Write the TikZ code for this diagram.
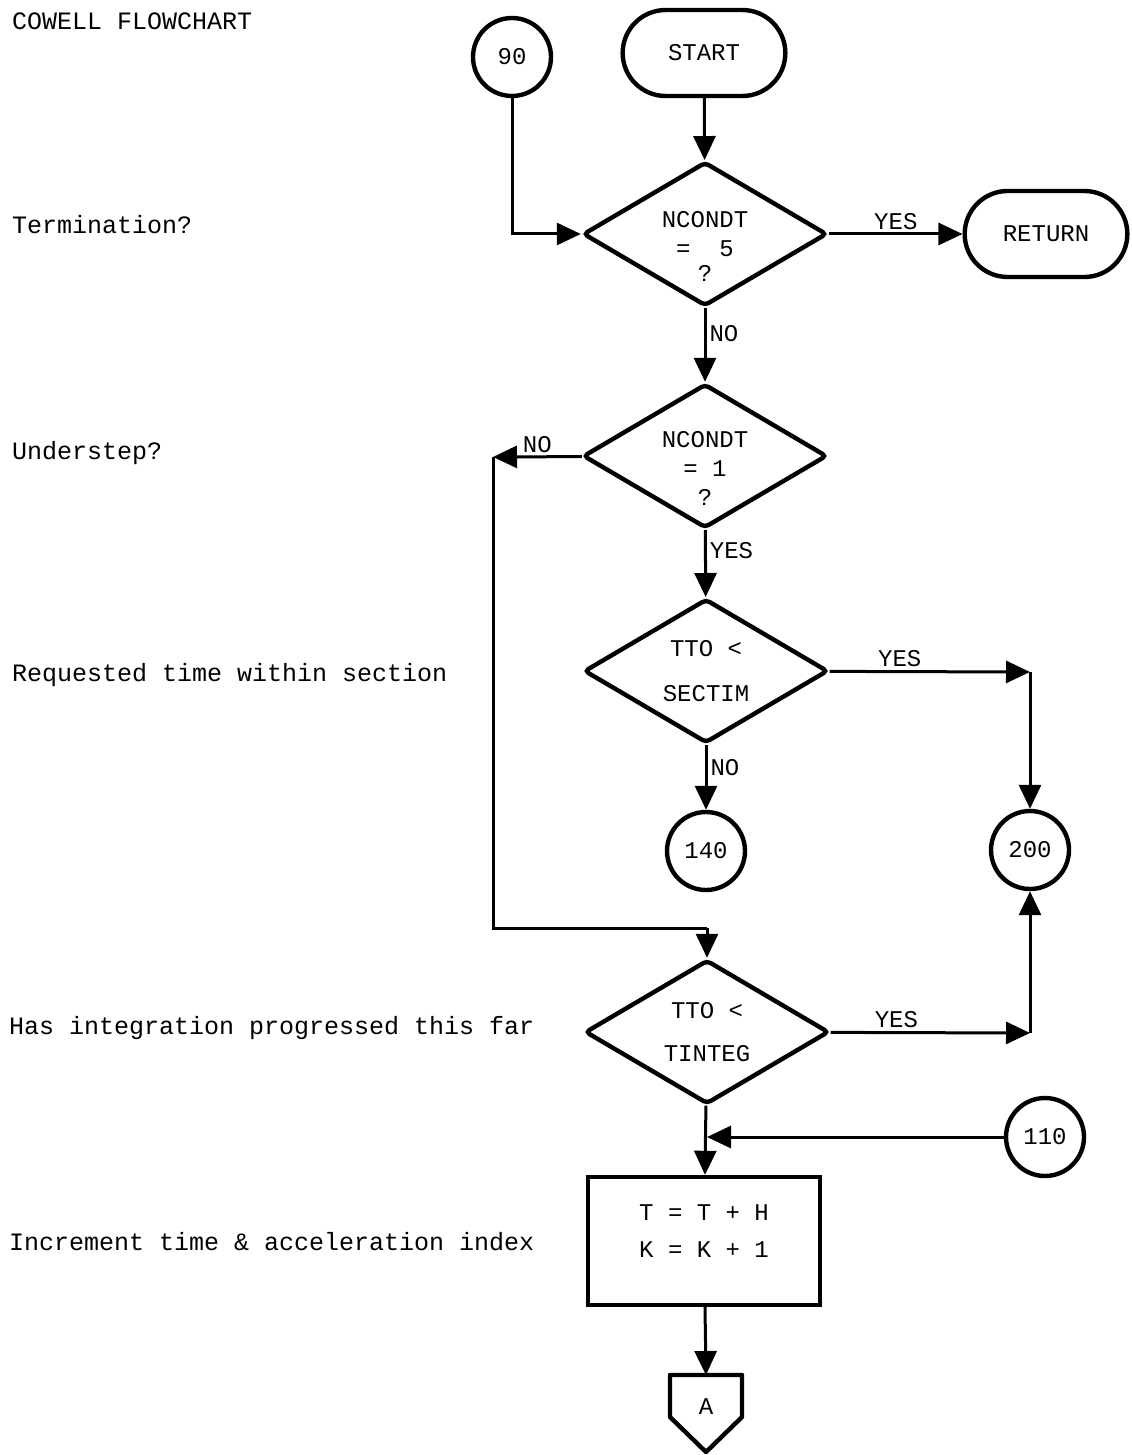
\documentclass[tikz,border=0pt]{standalone}
\usepackage{fontspec}
\setmonofont{Liberation Mono}
\usetikzlibrary{shapes.geometric,shapes.misc,arrows.meta}

\begin{document}
\begin{tikzpicture}[x=0.5pt,y=-0.5pt,
  every node/.style={font=\ttfamily\fontsize{12}{13.5}\selectfont},
  shape line/.style={line width=2.2pt},
  plain line/.style={line width=1.5pt},
  flow/.style={plain line,-{Triangle[length=12pt,width=11pt]}},
  terminal/.style={shape line,draw,rounded rectangle,minimum width=88pt,minimum height=43pt},
  decision/.style={shape line,draw,diamond,aspect=1.7,minimum width=122pt,minimum height=72pt,inner sep=0pt,align=center,rounded corners=2pt},
  connector/.style={shape line,draw,circle,minimum size=39pt,inner sep=0pt},
  process/.style={shape line,draw,rectangle,minimum width=116pt,minimum height=64pt,align=center},
  note/.style={anchor=west,font=\ttfamily\fontsize{12.5}{14}\selectfont},
  answer/.style={inner sep=1.5pt}]
\useasboundingbox (0,0) rectangle (1131,1455);

\node[note] (title) at (5,21) {COWELL FLOWCHART};
\node[note] (qterm) at (5,225) {Termination?};
\node[note] (qunder) at (5,453) {Understep?};
\node[note] (qsect) at (5,675) {Requested time within section};
\node[note] (qinteg) at (2,1028) {Has integration progressed this far};
\node[note] (qinc) at (2,1242) {Increment time \& acceleration index};

\node[connector] (c90) at (512,57) {90};
\node[terminal] (start) at (704,53) {START};
\node[decision,label={[align=center,yshift=-6pt]center:NCONDT\\[1pt]=\ \ 5\\[-1pt]?}] (d1) at (705,234) {};
\node[terminal] (ret) at (1046,234) {RETURN};
\node[decision,label={[align=center,yshift=-6pt]center:NCONDT\\[1pt]= 1\\[1pt]?}] (d2) at (705,456) {};
\node[decision] (d3) at (706,671) {TTO <\\[9pt]SECTIM};
\node[connector] (c140) at (706,851) {140};
\node[connector] (c200) at (1030,850) {200};
\node[decision] (d4) at (707,1032) {TTO <\\[8pt]TINTEG};
\node[connector] (c110) at (1045,1137) {110};
\node[process] (inc) at (704,1241) {T = T + H\\[5pt]K = K + 1\\[-4pt]};

\coordinate (conA) at (706,1375);
\draw[shape line,line join=round] (conA) -- ++(36,0) -- ++(0,42) -- ++(-36,35) -- ++(-36,-35) -- ++(0,-42) -- cycle;
\node (offA) at (706,1407) {A};

\coordinate (nocorner) at (493,457);
\coordinate (nojoin) at (707,928);
\coordinate (yes1) at (1030,672);
\coordinate (yes2) at (1030,1033);
\coordinate (join110) at (707,1137);

\draw[flow] (start) -- (d1);
\draw[flow] (c90) |- (d1);
\draw[flow] (d1) -- node[above,answer] {YES} (ret);
\draw[flow] (d1) -- node[right,pos=0.35,answer] {NO} (d2);
\draw[flow] (d2) -- node[above,answer] {NO} (nocorner);
\draw[plain line] (nocorner) |- (nojoin);
\draw[flow] (nojoin) -- (d4);
\draw[flow] (d2) -- node[right,pos=0.3,answer] {YES} (d3);
\draw[flow] (d3) -- node[above,pos=0.35,answer] {YES} (yes1);
\draw[flow] (yes1) -- (c200);
\draw[flow] (d3) -- node[right,pos=0.35,answer] {NO} (c140);
\draw[flow] (d4) -- node[above,pos=0.33,answer] {YES} (yes2);
\draw[flow] (yes2) -- (c200);
\draw[flow] (c110) -- (join110);
\draw[flow] (d4) -- (inc);
\draw[flow] (inc) -- (conA);
\end{tikzpicture}
\end{document}
